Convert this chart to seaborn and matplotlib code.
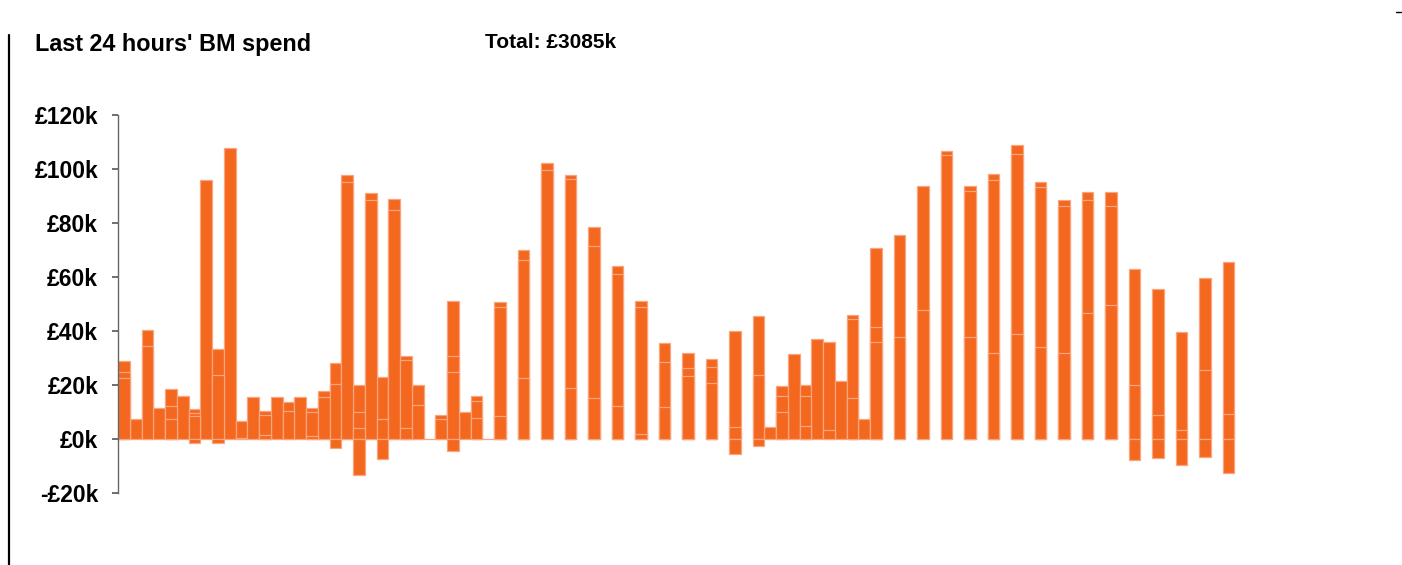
import numpy as np
import pandas as pd
import seaborn as sns
import matplotlib.pyplot as plt
from matplotlib.lines import Line2D

nan = np.nan

# BM spend per slot (£k), 96 slots over the last 24 hours
# total height of the positive stack
top_k = [29.0, 7.4, 40.5, 11.6, 18.5, 16.0, 11.2, 96.0, 33.3, 107.9,
         6.5, 15.4, 10.5, 15.4, 13.6, 15.4, 11.5, 17.8, 28.3, 97.7,
         20.1, 91.1, 23.1, 89.0, 30.9, 20.0, 0.0, 9.0, 51.2, 10.1,
         15.9, 0.0, 50.7, nan, 70.0, nan, 102.1, nan, 97.9, nan,
         78.6, nan, 64.2, nan, 51.1, nan, 35.4, nan, 31.7, nan,
         29.8, nan, 40.1, nan, 45.7, 4.6, 19.8, 31.4, 20.1, 37.0,
         35.8, 21.6, 45.9, 7.5, 70.7, nan, 75.6, nan, 93.7, nan,
         106.5, nan, 93.8, nan, 98.1, nan, 109.0, nan, 95.3, nan,
         88.6, nan, 91.6, nan, 91.6, nan, 63.0, nan, 55.6, nan,
         39.5, nan, 59.5, nan, 65.6, nan]

# upper boundary between stacked components
mid_hi_k = [24.8, nan, 34.4, nan, 12.3, nan, 9.6, nan, 23.7, nan,
            0.4, nan, 8.9, nan, 10.4, nan, 10.0, 15.7, 20.4, 95.2,
            10.0, 88.6, 7.4, 84.9, 29.4, 12.7, nan, 7.4, 30.9, nan,
            14.0, nan, 48.9, nan, 66.3, nan, 99.6, nan, 96.3, nan,
            71.5, nan, 61.1, nan, 48.9, nan, 28.5, nan, 26.4, nan,
            26.8, nan, 4.4, nan, 23.7, nan, 16.0, nan, 16.0, nan,
            3.3, nan, 44.4, nan, 41.5, nan, 37.7, nan, 47.8, nan,
            105.2, nan, 91.9, nan, 95.9, nan, 105.6, nan, 93.3, nan,
            86.3, nan, 88.5, nan, 86.3, nan, 20.0, nan, 8.9, nan,
            3.2, nan, 25.6, nan, 9.4, nan]

# lower boundary between stacked components
mid_lo_k = [22.5, nan, nan, nan, 7.4, nan, 8.5, nan, nan, nan,
            nan, nan, 1.5, nan, nan, nan, 1.0, nan, nan, nan,
            4.0, nan, nan, nan, 4.0, nan, nan, nan, 24.8, nan,
            7.8, nan, 8.5, nan, 22.6, nan, nan, nan, 18.9, nan,
            15.2, nan, 12.2, nan, 1.9, nan, 11.9, nan, 23.3, nan,
            20.7, nan, nan, nan, nan, nan, 10.0, nan, 4.8, nan,
            nan, nan, 15.2, nan, 35.9, nan, nan, nan, nan, nan,
            nan, nan, 37.8, nan, 31.9, nan, 38.9, nan, 34.1, nan,
            31.9, nan, 46.8, nan, 49.6, nan, nan, nan, nan, nan,
            nan, nan, nan, nan, nan, nan]

# negative spend
neg_k = [nan, nan, nan, nan, nan, nan, -1.5, nan, -1.6, nan,
         nan, nan, nan, nan, nan, nan, nan, nan, -3.5, nan,
         -13.2, nan, -7.4, nan, nan, nan, nan, nan, -4.4, nan,
         nan, nan, nan, nan, nan, nan, nan, nan, nan, nan,
         nan, nan, nan, nan, nan, nan, nan, nan, nan, nan,
         nan, nan, -5.6, nan, -2.6, nan, nan, nan, nan, nan,
         nan, nan, nan, nan, nan, nan, nan, nan, nan, nan,
         nan, nan, nan, nan, nan, nan, nan, nan, nan, nan,
         nan, nan, nan, nan, nan, nan, -7.7, nan, -7.0, nan,
         -9.5, nan, -6.7, nan, -12.6, nan]

slots = list(range(96))
yticks = [-20, 0, 20, 40, 60, 80, 100, 120]
title = "Last 24 hours' BM spend"
total_label = "Total: £3085k"

df = pd.DataFrame({"slot": slots, "top": top_k, "hi": mid_hi_k,
                   "lo": mid_lo_k, "neg": neg_k})

sns.set_style("white")
plt.rcParams["font.family"] = ["Liberation Sans", "DejaVu Sans"]
plt.rcParams["text.color"] = "black"
plt.rcParams["ytick.labelcolor"] = "black"

fig = plt.figure(figsize=(14.02, 5.65), dpi=100)
ax = fig.add_axes([118 / 1402, 72 / 565, (1246 - 118) / 1402, (493 - 115) / 565])

orange = "#f3671f"
edge = "#f9a57c"
for col in ["top", "hi", "lo", "neg"]:
    sns.barplot(data=df, x="slot", y=col, order=slots, color=orange,
                saturation=1, width=1, edgecolor=edge, linewidth=0.9,
                errorbar=None, ax=ax)

ax.set_xlim(-0.5, 95.5)
ax.set_ylim(-20, 120)
ax.set_xlabel("")
ax.set_ylabel("")
ax.set_xticks([])
ax.set_yticks(yticks)
ax.set_yticklabels([f"£{v}k" if v >= 0 else f"-£{-v}k" for v in yticks],
                   fontsize=16.5, fontweight="bold", color="black")
ax.tick_params(axis="y", left=True, length=4.3, width=1.2, color="#555555", pad=10)
for s in ["top", "right", "bottom"]:
    ax.spines[s].set_visible(False)
ax.spines["left"].set_color("#666666")
ax.spines["left"].set_linewidth(1)

fig.text(35 / 1402, 1 - 44 / 565, title, fontsize=16.8, fontweight="bold",
         ha="left", va="center", color="black")
fig.text(485 / 1402, 1 - 43 / 565, total_label, fontsize=15, fontweight="bold",
         ha="left", va="center", color="black")

# page border bits
fig.add_artist(Line2D([9 / 1402, 9 / 1402], [0, 1 - 35 / 565], color="black", lw=1.6))
fig.add_artist(Line2D([1396 / 1402, 1401 / 1402], [1 - 12 / 565, 1 - 12 / 565],
                      color="black", lw=1))

fig.savefig("out.png", dpi=100)
